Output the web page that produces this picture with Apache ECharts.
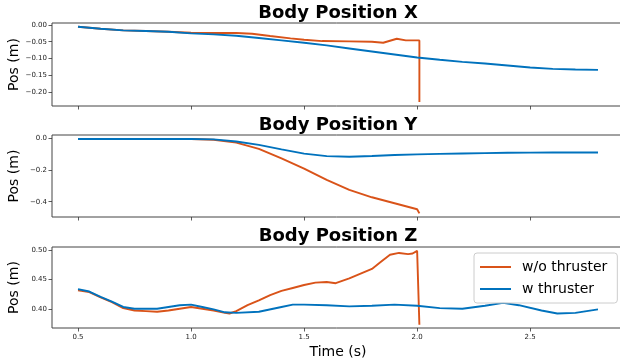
<!DOCTYPE html>
<html>
<head>
<meta charset="utf-8">
<script src="https://cdn.jsdelivr.net/npm/echarts@6/dist/echarts.min.js"></script>
<style>
html,body{margin:0;padding:0;background:#fff;}
#chart{width:620px;height:362px;}
</style>
</head>
<body>
<div id="chart"></div>
<script>
// ---- data ----
const titles = ['Body Position X', 'Body Position Y', 'Body Position Z'];
const seriesNames = ['w/o thruster', 'w thruster'];
const xTicks = [0.5, 1.0, 1.5, 2.0, 2.5];
const yTicksX = [0.00, -0.05, -0.10, -0.15, -0.20];
const yTicksY = [0.0, -0.2, -0.4];
const yTicksZ = [0.40, 0.45, 0.50];

const tW = [0.5,0.6,0.7,0.8,0.9,1.0,1.1,1.2,1.3,1.4,1.5,1.6,1.7,1.8,1.9,2.0,2.1,2.2,2.3,2.4,2.5,2.6,2.7,2.8];
const wX = [-0.005,-0.011,-0.016,-0.018,-0.020,-0.025,-0.028,-0.032,-0.039,-0.046,-0.053,-0.061,-0.070,-0.079,-0.088,-0.097,-0.104,-0.110,-0.115,-0.121,-0.127,-0.131,-0.133,-0.134];
const wY = [-0.002,-0.002,-0.002,-0.002,-0.002,-0.002,-0.005,-0.018,-0.040,-0.068,-0.095,-0.111,-0.115,-0.110,-0.104,-0.100,-0.097,-0.094,-0.092,-0.090,-0.089,-0.088,-0.088,-0.088];

const tWoX = [0.5,0.6,0.7,0.8,0.9,1.0,1.1,1.2,1.27,1.35,1.44,1.5,1.58,1.7,1.8,1.85,1.88,1.91,1.95,2.0,2.01,2.01];
const woX = [-0.005,-0.011,-0.016,-0.018,-0.020,-0.023,-0.024,-0.024,-0.026,-0.033,-0.040,-0.044,-0.048,-0.049,-0.050,-0.053,-0.047,-0.041,-0.046,-0.046,-0.046,-0.230];

const tWoY = [0.5,0.6,0.7,0.8,0.9,1.0,1.1,1.2,1.3,1.4,1.5,1.6,1.7,1.8,1.9,2.0,2.008,2.01];
const woY = [-0.002,-0.002,-0.002,-0.002,-0.002,-0.002,-0.007,-0.025,-0.065,-0.125,-0.190,-0.262,-0.325,-0.372,-0.410,-0.448,-0.440,-0.474];

const tWZ = [0.5,0.55,0.6,0.65,0.7,0.75,0.8,0.85,0.9,0.95,1.0,1.05,1.1,1.15,1.2,1.3,1.4,1.45,1.5,1.6,1.7,1.8,1.9,2.0,2.1,2.2,2.3,2.38,2.45,2.55,2.62,2.7,2.8];
const wZ = [0.434,0.430,0.421,0.413,0.404,0.401,0.401,0.401,0.404,0.407,0.408,0.404,0.400,0.395,0.394,0.396,0.404,0.408,0.408,0.407,0.405,0.406,0.408,0.406,0.402,0.401,0.406,0.411,0.407,0.398,0.393,0.394,0.400];

const tWoZ = [0.5,0.55,0.6,0.65,0.7,0.75,0.8,0.85,0.9,0.95,1.0,1.05,1.1,1.15,1.17,1.2,1.25,1.3,1.35,1.4,1.45,1.5,1.55,1.6,1.64,1.7,1.75,1.8,1.84,1.88,1.92,1.96,1.98,2.0,2.01];
const woZ = [0.432,0.429,0.420,0.412,0.402,0.398,0.397,0.396,0.398,0.401,0.404,0.401,0.398,0.394,0.393,0.397,0.407,0.415,0.424,0.431,0.436,0.441,0.445,0.446,0.444,0.452,0.460,0.468,0.480,0.492,0.495,0.493,0.494,0.4985,0.374];

// ---- chart ----
const FONT = 'DejaVu Sans';
const ORANGE = '#d95319';
const BLUE = '#0072bd';
const grids = [
  {left: 52, width: 572, top: 23, height: 83},
  {left: 52, width: 572, top: 135, height: 82},
  {left: 52, width: 572, top: 247, height: 81}
];
const yRanges = [[-0.242, 0.006], [-0.497, 0.023], [0.3686, 0.505]];
const yTickSets = [yTicksX, yTicksY, yTicksZ];
const yDec = [2, 1, 2];
const titleY = [13, 125, 236];

function pairs(t, v) { return t.map((x, i) => [x, v[i]]); }
function fmt(v, d) { return v.toFixed(d).replace('-', '\u2212'); }

const xAxes = grids.map((g, i) => ({
  type: 'value', gridIndex: i, min: 0.385, max: 2.915, position: 'bottom',
  axisLine: {show: false, onZero: false},
  splitLine: {show: false},
  axisTick: {show: true, customValues: xTicks, length: 3.5, lineStyle: {color: '#333', width: 0.8}},
  axisLabel: {show: i === 2, customValues: xTicks, fontSize: 7, fontFamily: FONT, color: '#222', margin: 6,
    formatter: v => fmt(v, 1)},
  name: i === 2 ? 'Time (s)' : '', nameLocation: 'middle', nameGap: 17, nameMoveOverlap: false,
  nameTextStyle: {fontSize: 14, fontFamily: FONT, color: '#000'}
}));
const yAxes = grids.map((g, i) => ({
  type: 'value', gridIndex: i, min: yRanges[i][0], max: yRanges[i][1], position: 'left',
  axisLine: {show: false, onZero: false},
  splitLine: {show: false},
  axisTick: {show: true, customValues: yTickSets[i], length: 3.5, lineStyle: {color: '#333', width: 0.8}},
  axisLabel: {customValues: yTickSets[i], fontSize: 7, fontFamily: FONT, color: '#222', margin: 5,
    formatter: v => fmt(v, yDec[i])},
  name: 'Pos (m)', nameLocation: 'middle', nameRotate: 90, nameGap: 31, nameMoveOverlap: false,
  nameTextStyle: {fontSize: 14, fontFamily: FONT, color: '#000'}
}));

function line(name, color, idx, data) {
  return {type: 'line', name, xAxisIndex: idx, yAxisIndex: idx, data, symbol: 'none', smooth: false,
    lineStyle: {color, width: 1.9}, itemStyle: {color}, animation: false, clip: true};
}

const option = {
  animation: false,
  grid: grids.map(g => Object.assign({show: true, borderColor: '#444', borderWidth: 1, backgroundColor: 'transparent',
    containLabel: false, outerBoundsMode: 'none'}, g)),
  xAxis: xAxes,
  yAxis: yAxes,
  legend: {
    data: seriesNames, orient: 'vertical', left: 474, top: 253,
    icon: 'rect', itemWidth: 31, itemHeight: 2, itemGap: 8,
    padding: [7, 10, 7, 6],
    textStyle: {fontSize: 14, fontFamily: FONT, color: '#000', padding: [0, 0, 0, 6]},
    backgroundColor: 'rgba(255,255,255,0.8)', borderColor: '#ccc', borderWidth: 1, borderRadius: 3
  },
  graphic: titles.map((t, i) => ({
    type: 'text', x: 338, y: titleY[i],
    style: {text: t, font: 'bold 18px "DejaVu Sans"', fill: '#000', textAlign: 'center', textVerticalAlign: 'middle'}
  })),
  series: [
    line(seriesNames[0], ORANGE, 0, pairs(tWoX, woX)),
    line(seriesNames[1], BLUE, 0, pairs(tW, wX)),
    line(seriesNames[0], ORANGE, 1, pairs(tWoY, woY)),
    line(seriesNames[1], BLUE, 1, pairs(tW, wY)),
    line(seriesNames[0], ORANGE, 2, pairs(tWoZ, woZ)),
    line(seriesNames[1], BLUE, 2, pairs(tWZ, wZ))
  ]
};
const chart = echarts.init(document.getElementById('chart'), null, {renderer: 'canvas'});
chart.setOption(option);
</script>
</body>
</html>
